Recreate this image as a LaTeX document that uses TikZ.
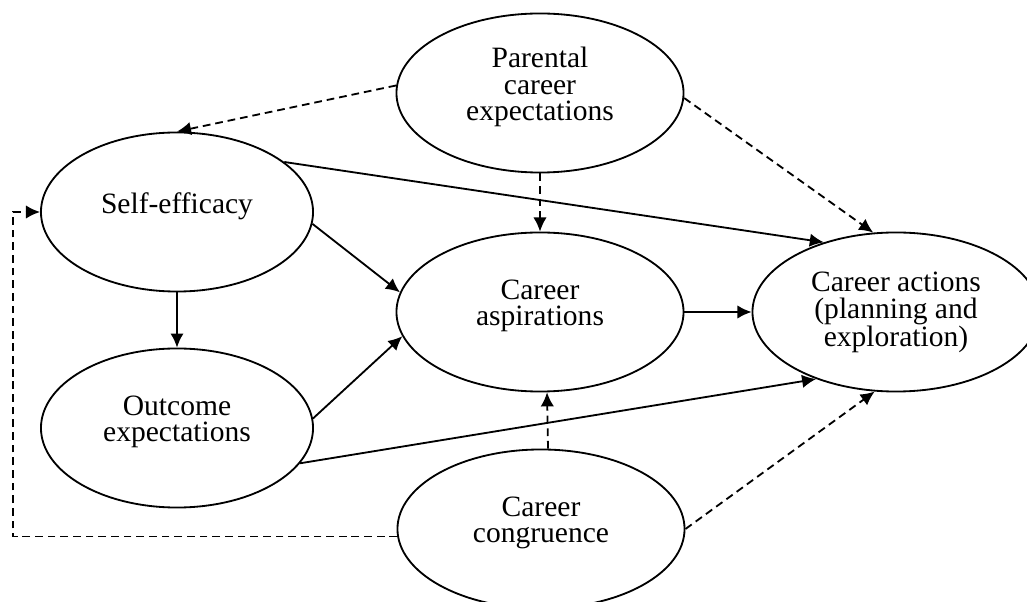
\documentclass[tikz,border=0pt]{standalone}
\usepackage{fontspec}
\setmainfont{Liberation Serif}
\usetikzlibrary{shapes.geometric,arrows.meta}

\begin{document}
\begin{tikzpicture}[x=0.025cm, y=-0.025cm, font=\fontsize{21}{19}\selectfont, line width=1.3pt, every node/.style={draw, ellipse, minimum width=7.175cm, minimum height=3.975cm, inner sep=0pt, align=center, text depth=13pt}, narrow/.style={minimum width=6.8cm}, dashline/.style={dash pattern=on 5.5pt off 3.5pt}, >={Latex[length=10pt,width=9.5pt]}]
\useasboundingbox (0,0) rectangle (1027,602);
\clip (0,0) rectangle (1027,602);
\node (PE) at (540,93) {Parental\\ career\\ expectations};
\node[narrow] (SE) at (177,212) {Self-efficacy};
\node[narrow] (OE) at (177,428) {Outcome\\ expectations};
\node (CA) at (540,312) {Career\\ aspirations};
\node[text depth=4pt] (CT) at (896,312) {Career actions\\ (planning and\\ exploration)};
\node (CC) at (541,529) {Career\\ congruence};
\coordinate (LB) at (13,0);
\draw[->] (SE.25) -- (CT.136); \draw[->] (SE.-5) -- (CA.172); \draw[->] (SE.south) -- (OE.north);
\draw[->] (OE.4) -- (CA.190); \draw[->] (OE.-16) -- (CT.220); \draw[->] (CA.east) -- (CT.west);
\draw[->, dashline] (PE.177) -- (SE.north); \draw[->, dashline] (PE.south) -- (CA.north); \draw[->, dashline] (PE.-2) -- (CT.106);
\draw[->, dashline] (CC.85) -- (CA.275); \draw[->, dashline] (CC.east) -- (CT.255);
\draw[->, dashline] (CC.183) -- (CC.183 -| LB) |- (SE.west);
\end{tikzpicture}
\end{document}
